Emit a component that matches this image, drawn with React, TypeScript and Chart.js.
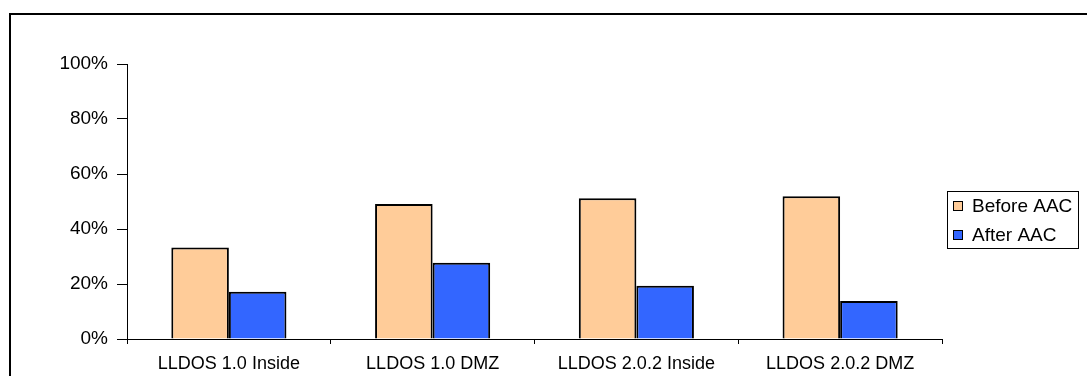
import React, { useEffect, useRef } from "react";
import { Chart, registerables } from "chart.js";

Chart.register(...registerables);

const categories = ["LLDOS 1.0 Inside", "LLDOS 1.0 DMZ", "LLDOS 2.0.2 Inside", "LLDOS 2.0.2 DMZ"];
const beforeAAC = [33.3, 49.1, 51.2, 51.9];
const afterAAC = [17.2, 27.7, 19.4, 13.8];
const seriesNames = ["Before AAC", "After AAC"];
const seriesColors = ["#FFCC99", "#3366FF"];

const FONT = '"Liberation Sans", Arial, sans-serif';
const FONT_SIZE = 18;

// Framed legend drawn to the right of the plot area
const boxedLegend = {
  id: "boxedLegend",
  afterDraw(chart: any, _args: any, opts: any) {
    const ctx = chart.ctx;
    ctx.save();
    ctx.strokeStyle = "#000";
    ctx.lineWidth = 1;
    ctx.strokeRect(opts.left + 0.5, opts.top + 0.5, opts.width, opts.height);
    ctx.font = `${opts.fontSize}px ${FONT}`;
    ctx.textBaseline = "middle";
    ctx.textAlign = "left";
    chart.data.datasets.forEach((ds: any, i: number) => {
      const cy = opts.top + opts.firstRow + i * opts.rowGap;
      const sx = opts.left + 6;
      ctx.fillStyle = ds.backgroundColor;
      ctx.fillRect(sx, cy - 5, 10, 10);
      ctx.strokeRect(sx + 0.5, cy - 4.5, 9, 9);
      ctx.fillStyle = "#000";
      ctx.fillText(ds.label, opts.left + 25, cy + 1);
    });
    ctx.restore();
  },
};

export default function App() {
  const canvasRef = useRef<HTMLCanvasElement | null>(null);

  useEffect(() => {
    if (!canvasRef.current) return;
    const chart = new Chart(canvasRef.current, {
      type: "bar",
      data: {
        labels: categories,
        datasets: [
          {
            label: seriesNames[0],
            data: beforeAAC,
            backgroundColor: seriesColors[0],
            borderColor: "#000",
            borderWidth: 2,
          },
          {
            label: seriesNames[1],
            data: afterAAC,
            backgroundColor: seriesColors[1],
            borderColor: "#000",
            borderWidth: 2,
          },
        ],
      },
      plugins: [boxedLegend],
      options: {
        responsive: false,
        animation: false,
        events: [],
        layout: { padding: { top: 64, right: 145, left: 0, bottom: 0 } },
        datasets: {
          bar: { categoryPercentage: 0.565, barPercentage: 1.0 },
        },
        scales: {
          x: {
            grid: {
              drawOnChartArea: false,
              drawTicks: true,
              tickLength: 5,
              color: "#000",
              offset: true,
            },
            border: { display: true, color: "#000", width: 1 },
            ticks: {
              color: "#000",
              padding: 9,
              maxRotation: 0,
              font: { family: FONT, size: FONT_SIZE },
            },
            afterFit: (scale: any) => {
              scale.height = 37;
            },
          },
          y: {
            min: 0,
            max: 100,
            grid: {
              drawOnChartArea: false,
              drawTicks: true,
              tickLength: 10,
              color: "#000",
            },
            border: { display: true, color: "#000", width: 1 },
            ticks: {
              stepSize: 20,
              color: "#000",
              padding: 9,
              font: { family: FONT, size: 19 },
              callback: (v: any) => `${v}%`,
            },
            afterFit: (scale: any) => {
              scale.width = 127;
            },
          },
        },
        plugins: {
          legend: { display: false },
          tooltip: { enabled: false },
          title: { display: false },
          boxedLegend: {
            left: 947,
            top: 191,
            width: 131,
            height: 57,
            firstRow: 15,
            rowGap: 29,
            fontSize: 19,
          },
        } as any,
      },
    });
    return () => chart.destroy();
  }, []);

  return (
    <div
      style={{
        position: "fixed",
        left: 0,
        top: 0,
        width: 1087,
        height: 376,
        overflow: "hidden",
        background: "#fff",
      }}
    >
      <div
        style={{
          position: "absolute",
          left: 9,
          top: 13,
          width: 1200,
          height: 500,
          borderLeft: "2px solid #000",
          borderTop: "2px solid #000",
        }}
      />
      <canvas
        ref={canvasRef}
        width={1087}
        height={376}
        style={{ position: "absolute", left: 0, top: 0, width: 1087, height: 376 }}
      />
    </div>
  );
}
